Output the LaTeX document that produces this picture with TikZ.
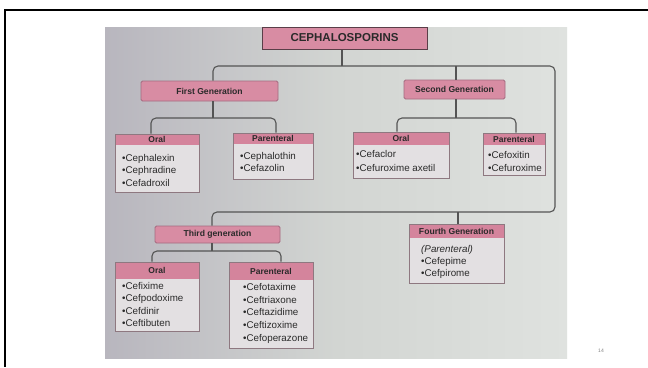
\documentclass[tikz,border=0pt]{standalone}
\usepackage{fontspec}
\setmainfont{Liberation Sans}
\usetikzlibrary{calc}
\definecolor{photoL}{HTML}{B8B6BE}
\definecolor{photoM}{HTML}{D2D5D2}
\definecolor{photoR}{HTML}{DFE2DF}
\definecolor{pinkfill}{HTML}{D88CA3}
\definecolor{headfill}{HTML}{D4849C}
\definecolor{bodyfill}{HTML}{E3E0E2}
\definecolor{genborder}{HTML}{A46A80}
\definecolor{boxborder}{HTML}{8E7880}
\definecolor{titleborder}{HTML}{5A3E48}
\definecolor{linec}{HTML}{545454}
\definecolor{textc}{HTML}{2A2A2A}
\begin{document}
\begin{tikzpicture}[x=1pt,y=-1pt,
  genbox/.style={draw=genborder, fill=pinkfill, line width=0.8pt, rounded corners=1.5pt,
    inner sep=0pt, text=textc, font=\bfseries\fontsize{8.6}{10}\selectfont},
  titlebox/.style={draw=titleborder, fill=pinkfill, line width=1pt,
    inner sep=0pt, text=textc, font=\bfseries\fontsize{11.5}{13}\selectfont},
  itembox/.style={draw=boxborder, fill=bodyfill, line width=0.8pt, inner sep=0pt,
    path picture={\fill[headfill] (path picture bounding box.north west) rectangle
      ([yshift=-#1]path picture bounding box.north east);}},
  headtext/.style={inner sep=0pt, text=textc, font=\bfseries\fontsize{8.5}{10}\selectfont},
  items/.style={anchor=north west, align=left, inner sep=0pt, text=textc,
    font=\fontsize{9.8}{#1}\selectfont},
  items/.default=12.5pt,
  conn/.style={draw=linec, line width=1.1pt, rounded corners=5pt}
]
\useasboundingbox (0,0) rectangle (648,367);
\fill[white] (0,0) rectangle (648,367);
\draw[line width=2pt] (648,10) -- (5,10) -- (5,367);
\shade[left color=photoL, right color=photoR, middle color=photoM] (105,27) rectangle (567,358);

% title
\node[titlebox, minimum width=165pt, minimum height=22pt] (title) at (344.5,38) {CEPHALOSPORINS};

% generations
\node[genbox, minimum width=137pt, minimum height=20pt] (g1) at (209.5,91) {First Generation};
\node[genbox, minimum width=101pt, minimum height=19pt] (g2) at (454.5,89.5) {Second Generation};
\node[genbox, minimum width=125pt, minimum height=17pt] (g3) at (217.5,234.5) {Third generation};

% first generation boxes
\node[itembox=11pt, minimum width=84pt, minimum height=58pt] (o1) at (157,163) {};
\node[headtext] (o1h) at (157,139.5) {Oral};
\node[items] (o1t) at (122,154) {•Cephalexin\\•Cephradine\\•Cefadroxil};

\node[itembox=11pt, minimum width=80pt, minimum height=46pt] (p1) at (273,156) {};
\node[headtext] (p1h) at (273,138.5) {Parenteral};
\node[items] (p1t) at (240,152) {•Cephalothin\\•Cefazolin};

% second generation boxes
\node[itembox=13pt, minimum width=96pt, minimum height=46pt] (o2) at (401,155) {};
\node[headtext] (o2h) at (401,138.5) {Oral};
\node[items=14.5pt] (o2t) at (356,150) {•Cefaclor\\•Cefuroxime axetil};

\node[itembox=12pt, minimum width=62pt, minimum height=42pt] (p2) at (514,154) {};
\node[headtext] (p2h) at (514,139) {Parenteral};
\node[items=13pt] (p2t) at (488,151) {•Cefoxitin\\•Cefuroxime};

% fourth generation
\node[itembox=14pt, minimum width=95pt, minimum height=59pt] (g4) at (456.5,253.5) {};
\node[headtext, font=\bfseries\fontsize{8.6}{10}\selectfont] (g4h) at (456.5,231) {Fourth Generation};
\node[items=12pt] (g4t) at (421,245) {\itshape(Parenteral)\\•Cefepime\\•Cefpirome};

% third generation boxes
\node[itembox=17pt, minimum width=84pt, minimum height=69pt] (o3) at (157,296.5) {};
\node[headtext] (o3h) at (157,270.5) {Oral};
\node[items=12.4pt] (o3t) at (122,282) {•Cefixime\\•Cefpodoxime\\•Cefdinir\\•Ceftibuten};

\node[itembox=18pt, minimum width=84pt, minimum height=86pt] (p3) at (271,305) {};
\node[headtext] (p3h) at (271,271) {Parenteral};
\node[items=12.75pt] (p3t) at (243,283) {•Cefotaxime\\•Ceftriaxone\\•Ceftazidime\\•Ceftizoxime\\•Cefoperazone};

% connector points
\coordinate (top) at (342,66);
\coordinate (rc1) at (555,66);
\coordinate (rc2) at (212,212);
\coordinate (b1) at (213,118);
\coordinate (b2) at (456,118);
\coordinate (b3) at (212,251);

% connectors
\draw[conn] ([xshift=-2.5pt]title.south) -- (top);
\draw[conn] ([xshift=3.5pt]g1.north) |- (rc1) |- (rc2) -- ([xshift=-5.5pt]g3.north);
\draw[conn] ([xshift=1.5pt]g2.north) -- ([xshift=1.5pt]g2.north |- top);
\draw[conn] ([xshift=1.5pt]g4.north) -- ([xshift=1.5pt]g4.north |- rc2);

\draw[conn] ([xshift=3.5pt]g1.south) -- (b1);
\draw[conn] ([xshift=-6pt]o1.north) |- (b1) -| ([xshift=3pt]p1.north);

\draw[conn] ([xshift=1.5pt]g2.south) -- (b2);
\draw[conn] ([xshift=-4pt]o2.north) |- (b2) -| ([xshift=2pt]p2.north);

\draw[conn] ([xshift=-5.5pt]g3.south) -- (b3);
\draw[conn] ([xshift=-5pt]o3.north) |- (b3) -| ([xshift=10pt]p3.north);

% page number
\node[inner sep=0pt, text=gray, font=\fontsize{5}{6}\selectfont] (pg) at (601,351) {14};
\end{tikzpicture}
\end{document}
